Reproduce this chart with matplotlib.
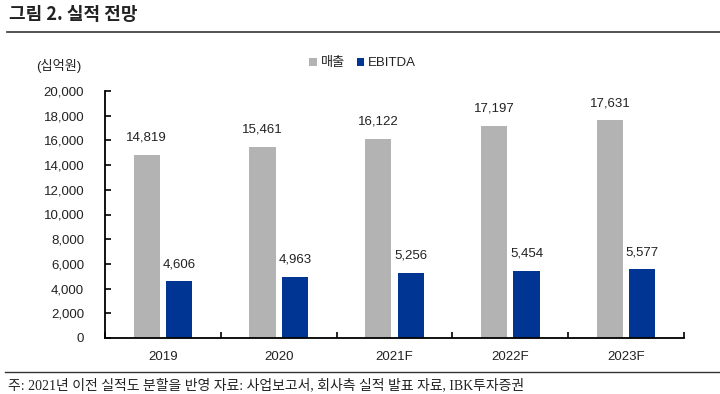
import numpy as np
import matplotlib.pyplot as plt
from matplotlib.lines import Line2D

years = ["2019", "2020", "2021F", "2022F", "2023F"]
sales = [14819, 15461, 16122, 17197, 17631]
ebitda = [4606, 4963, 5256, 5454, 5577]

plt.rcParams['font.family'] = ['Liberation Sans', 'Noto Sans CJK KR', 'DejaVu Sans']
plt.rcParams['text.color'] = '#222222'
plt.rcParams['xtick.labelcolor'] = '#222222'
plt.rcParams['ytick.labelcolor'] = '#222222'

gray = '#b3b3b3'
blue = '#003594'

fig = plt.figure(figsize=(7.2, 3.94), dpi=100)
ax = fig.add_axes([105 / 720, 1 - 338 / 394, (684 - 105) / 720, (338 - 91) / 394])

x = np.arange(len(years))
w = 0.225
off = 0.14
b1 = ax.bar(x - off, sales, width=w, color=gray, label="매출")
b2 = ax.bar(x + off, ebitda, width=w, color=blue, label="EBITDA")

for rect, v in zip(list(b1) + list(b2), sales + ebitda):
    ax.annotate(f"{v:,}", (rect.get_x() + rect.get_width() / 2, v), xytext=(0, 8),
                textcoords='offset points', ha='center', va='bottom', fontsize=9.5)

ax.set_xlim(-0.5, len(years) - 0.5)
ax.set_ylim(0, 20000)
ax.set_yticks(np.arange(0, 20001, 2000))
ax.set_yticklabels([f"{v:,}" for v in range(0, 20001, 2000)])
ax.set_xticks(x)
ax.set_xticklabels(years)
ax.set_xticks(np.arange(-0.5, len(years), 1), minor=True)
ax.tick_params(axis='x', which='major', length=0, pad=9, labelsize=9.5)
ax.tick_params(axis='x', which='minor', direction='in', length=4, width=1.2)
ax.tick_params(axis='y', direction='in', length=4, width=1.2, pad=15, labelsize=9.5)
for s in ['top', 'right']:
    ax.spines[s].set_visible(False)
for s in ['left', 'bottom']:
    ax.spines[s].set_linewidth(1.3)

leg = ax.legend(loc='lower center', bbox_to_anchor=(0.445, 1.04), ncol=2, frameon=False,
                fontsize=9.5, handlelength=0.55, handleheight=0.55, handletextpad=0.3,
                columnspacing=0.9)

fig.text(36 / 720, 1 - 66 / 394, "(십억원)", fontsize=9.5, va='center', ha='left')

fig.text(9 / 720, 1 - 15 / 394, "그림 2. 실적 전망", fontsize=13, fontweight='bold',
         va='center', ha='left', family=['Noto Sans CJK KR'])
fig.add_artist(Line2D([7 / 720, 1], [1 - 32 / 394] * 2, color='#333333', lw=1.2))
fig.add_artist(Line2D([5 / 720, 1], [1 - 372 / 394] * 2, color='#333333', lw=1.0))
fig.text(8 / 720, 1 - 385 / 394, "주: 2021년 이전 실적도 분할을 반영 자료: 사업보고서, 회사측 실적 발표 자료, IBK투자증권",
         fontsize=10, va='center', ha='left', family=['Liberation Serif', 'Noto Sans CJK KR'])

fig.savefig("out.png", dpi=100)
